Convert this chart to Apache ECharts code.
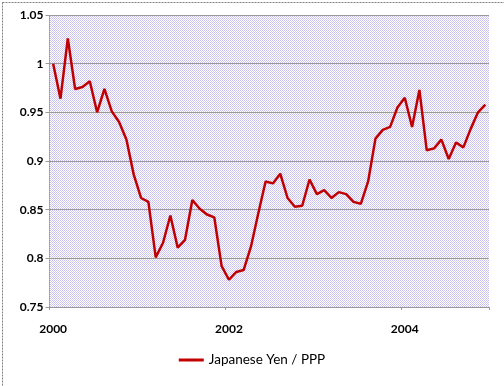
<!DOCTYPE html>
<html>
<head>
<meta charset="utf-8">
<script src="https://cdn.jsdelivr.net/npm/echarts@6/dist/echarts.min.js"></script>
<style>
html,body{margin:0;padding:0;background:#fff;}
#chart{width:504px;height:386px;}
</style>
</head>
<body>
<div id="chart"></div>
<script>
// Data (monthly, Jan 2000 - Dec 2004)
const years = ['2000', '2001', '2002', '2003', '2004'];
const tickLabels = ['2000', '2002', '2004'];
const seriesName = 'Japanese Yen / PPP';
const yenPPP = [
  1.000, 0.964, 1.026, 0.974, 0.976, 0.982, 0.950, 0.974, 0.951, 0.940, 0.922, 0.886,
  0.862, 0.858, 0.801, 0.816, 0.844, 0.811, 0.819, 0.860, 0.851, 0.845, 0.842, 0.792,
  0.778, 0.786, 0.788, 0.812, 0.846, 0.879, 0.877, 0.887, 0.862, 0.853, 0.854, 0.881,
  0.866, 0.870, 0.862, 0.868, 0.866, 0.858, 0.856, 0.879, 0.923, 0.932, 0.935, 0.955,
  0.965, 0.935, 0.973, 0.911, 0.913, 0.922, 0.902, 0.919, 0.914, 0.933, 0.950, 0.958
];
const months = [];
years.forEach(y => { for (let m = 1; m <= 12; m++) months.push(y + '-' + (m < 10 ? '0' + m : m)); });

// hatch pattern for the plot area
const pc = document.createElement('canvas');
pc.width = 2; pc.height = 2;
const g = pc.getContext('2d');
g.fillStyle = '#ffffff'; g.fillRect(0, 0, 2, 2);
g.fillStyle = '#c4bdee'; g.fillRect(0, 0, 1, 1);
g.fillStyle = '#e6c6ea'; g.fillRect(1, 1, 1, 1);

const chart = echarts.init(document.getElementById('chart'), null, {renderer: 'canvas'});
const font = 'Lato, "Open Sans", sans-serif';
chart.setOption({
  animation: false,
  backgroundColor: '#ffffff',
  graphic: [{
    type: 'rect', left: 0, top: 0, z: 100, silent: true,
    shape: {x: 0.5, y: 0.5, width: 502, height: 384},
    style: {fill: 'none', stroke: '#808080', lineWidth: 1, lineDash: [2, 1]}
  }],
  grid: {
    left: 49.5, top: 15, right: 15, bottom: 79,
    show: true, borderWidth: 0,
    backgroundColor: {image: pc, repeat: 'repeat'}
  },
  legend: {
    bottom: 14, left: 'center',
    itemWidth: 25, itemHeight: 3, itemGap: 4,
    icon: 'rect',
    textStyle: {fontFamily: font, fontSize: 13.5, color: '#000'},
    data: [{name: seriesName, icon: 'rect'}]
  },
  xAxis: {
    type: 'category',
    data: months,
    boundaryGap: true,
    axisLine: {show: true, lineStyle: {color: '#999', type: 'dotted', width: 1}},
    axisTick: {show: true, length: 3, interval: (i) => i % 24 === 0, lineStyle: {color: '#999'}},
    axisLabel: {
      interval: (i) => i % 24 === 0,
      formatter: (v) => { const y = v.slice(0, 4); return tickLabels.indexOf(y) >= 0 ? y : ''; },
      fontFamily: font, fontWeight: 'bold', fontSize: 12, color: '#000', margin: 16
    },
    splitLine: {show: false}
  },
  yAxis: {
    type: 'value',
    min: 0.75, max: 1.05, interval: 0.05,
    axisLine: {show: true, lineStyle: {color: '#999', type: 'dotted', width: 1}},
    axisTick: {show: true, length: 4, lineStyle: {color: '#999'}},
    axisLabel: {
      formatter: (v) => String(+v.toFixed(2)),
      fontFamily: font, fontWeight: 'bold', fontSize: 12, color: '#000', margin: 6
    },
    splitLine: {show: true, lineStyle: {color: '#9a9a9a', width: 1}}
  },
  series: [{
    name: seriesName,
    type: 'line',
    data: yenPPP,
    symbol: 'none',
    lineStyle: {color: '#c00000', width: 2.5},
    itemStyle: {color: '#c00000'}
  }]
});
</script>
</body>
</html>
